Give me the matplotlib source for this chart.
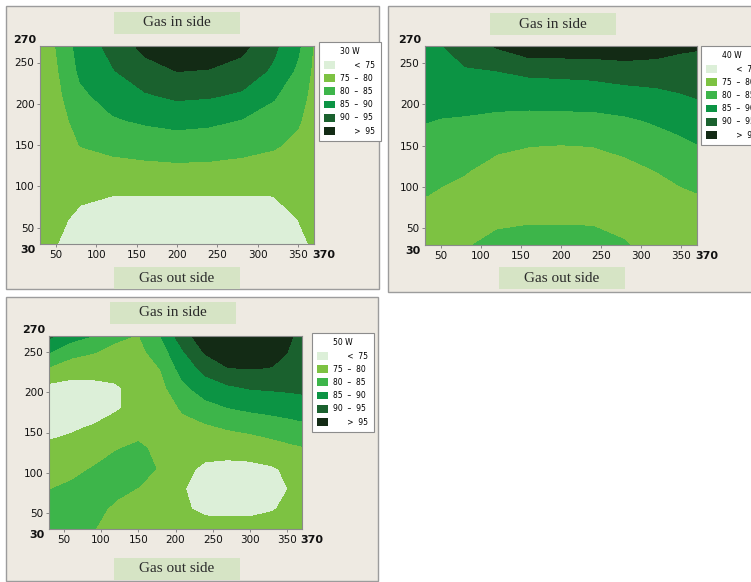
import matplotlib
matplotlib.use("Agg")
import matplotlib.pyplot as plt
from matplotlib.patches import Patch, Rectangle

W, H = 751, 582

# contour classes (efficiency bands) and their colours
levels = [60, 75, 80, 85, 90, 95, 105]
level_colors = ["#dcefd8", "#7dc242", "#3db54a", "#0c9444", "#1a612e", "#132b15"]
level_labels = ["      <  75", "75  –  80", "80  –  85", "85  –  90", "90  –  95", "      >  95"]

# grid for the 30 W and 40 W maps (x = gas out side, y = gas in side)
x_a = [30, 50, 80, 120, 160, 200, 240, 280, 320, 350, 370]
y_a = [270, 240, 210, 180, 150, 120, 90, 60, 30]

eff_30w = [
    [79.0, 80.1, 87.0, 91.5, 96.5, 98.0, 97.5, 96.5, 91.0, 86.0, 79.5],
    [78.5, 79.3, 85.9, 89.7, 93.0, 95.1, 94.8, 93.0, 89.2, 84.0, 79.0],
    [78.5, 78.5, 84.0, 87.0, 89.5, 90.9, 90.5, 89.3, 85.5, 82.0, 78.5],
    [78.0, 78.0, 81.7, 84.5, 85.7, 86.5, 86.0, 84.8, 83.0, 80.5, 78.0],
    [78.0, 77.5, 80.1, 81.2, 82.0, 82.6, 82.3, 81.5, 80.5, 79.0, 77.5],
    [77.5, 77.0, 78.4, 78.5, 78.7, 78.9, 78.8, 78.5, 78.0, 77.5, 77.0],
    [77.0, 76.5, 75.6, 75.1, 75.1, 75.1, 75.1, 75.1, 75.1, 76.0, 76.5],
    [76.5, 75.8, 74.2, 73.0, 72.5, 72.5, 72.5, 72.5, 73.5, 75.0, 76.0],
    [76.0, 75.1, 73.0, 71.5, 70.5, 70.0, 70.0, 70.5, 72.0, 74.0, 75.5],
]

eff_40w = [
    [88.5, 89.7, 92.5, 95.5, 98.5, 98.5, 98.5, 98.5, 97.5, 96.0, 95.5],
    [87.5, 88.0, 89.5, 90.0, 91.0, 91.2, 91.5, 92.5, 92.5, 92.5, 92.8],
    [86.5, 86.7, 87.0, 87.0, 87.0, 87.3, 87.5, 88.0, 88.8, 89.7, 90.3],
    [85.2, 84.8, 84.5, 83.8, 83.5, 83.5, 83.5, 84.3, 85.5, 86.5, 87.5],
    [83.0, 82.8, 82.3, 80.8, 80.1, 79.9, 80.1, 81.0, 83.0, 84.0, 84.8],
    [81.5, 81.0, 80.3, 78.5, 78.0, 77.8, 78.0, 78.8, 80.1, 81.3, 82.0],
    [80.1, 79.5, 78.5, 77.5, 77.5, 77.3, 77.5, 77.5, 78.3, 79.3, 79.8],
    [78.0, 77.8, 78.3, 79.0, 79.5, 79.5, 79.5, 78.8, 78.0, 78.3, 78.5],
    [77.0, 77.0, 79.5, 81.5, 82.0, 82.0, 81.5, 80.3, 78.0, 78.0, 78.0],
]

# finer grid for the 50 W map
x_b = [30, 60, 90, 120, 150, 180, 210, 240, 270, 300, 330, 355, 370]
y_b = [270, 250, 230, 205, 180, 155, 130, 105, 80, 55, 30]

eff_50w = [
    [91.0, 87.0, 84.8, 81.0, 79.7, 85.0, 93.0, 98.0, 99.5, 100.0, 98.0, 95.3, 93.5],
    [85.3, 81.5, 80.2, 78.5, 78.5, 82.5, 89.5, 95.5, 98.0, 98.5, 97.0, 94.5, 93.0],
    [79.5, 77.5, 77.0, 76.5, 77.5, 80.1, 87.2, 91.5, 94.8, 95.2, 94.8, 93.2, 92.5],
    [73.5, 73.0, 73.5, 74.5, 76.5, 78.5, 83.7, 87.5, 89.0, 90.2, 90.5, 90.8, 91.0],
    [72.5, 72.5, 73.0, 74.5, 76.5, 77.5, 80.5, 83.0, 84.8, 85.8, 86.5, 87.0, 87.5],
    [73.5, 74.5, 75.5, 77.0, 78.0, 77.5, 78.5, 79.0, 80.2, 81.0, 82.0, 83.0, 83.5],
    [76.0, 76.5, 77.5, 79.7, 81.0, 78.5, 77.5, 76.5, 76.5, 77.0, 78.0, 79.0, 79.5],
    [78.5, 78.5, 80.3, 82.0, 82.5, 79.3, 76.0, 74.2, 73.8, 73.8, 74.5, 76.0, 77.3],
    [79.8, 81.0, 82.0, 81.3, 79.8, 77.5, 75.2, 73.5, 73.0, 73.0, 73.8, 75.2, 76.5],
    [82.0, 82.5, 81.5, 79.0, 77.5, 76.5, 75.5, 74.2, 74.0, 74.0, 74.7, 76.0, 77.0],
    [84.5, 83.5, 80.2, 77.0, 76.5, 76.5, 76.5, 76.5, 76.5, 76.5, 77.0, 77.5, 78.0],
]

x_ticks = [50, 100, 150, 200, 250, 300, 350]
y_ticks = [50, 100, 150, 200, 250]

panel_bg = "#eeeae2"
box_green = "#d6e4c5"

fig = plt.figure(figsize=(W / 100, H / 100), dpi=100)
fig.patch.set_facecolor("white")


def frac(l, t, r, b):
    # pixel box (left, top, right, bottom) -> figure fraction rect
    return (l / W, 1 - b / H, (r - l) / W, (b - t) / H)


def px_rect(l, t, r, b, **kw):
    x0, y0, w, h = frac(l, t, r, b)
    fig.add_artist(Rectangle((x0, y0), w, h, transform=fig.transFigure, **kw))


def label_box(cx, cy, text):
    px_rect(cx - 63, cy - 11, cx + 63, cy + 11, facecolor=box_green, edgecolor="none", zorder=-4)
    fig.text(cx / W, 1 - cy / H, text, ha="center", va="center",
             family="Liberation Serif", fontsize=11, color="#2a2a2a")


def panel(frame, ax_box, leg_xy, top_c, bot_c, x, y, z, power):
    px_rect(*frame, facecolor=panel_bg, edgecolor="#9c9c9c", lw=1.0, zorder=-5)
    label_box(*top_c, "Gas in side")
    label_box(*bot_c, "Gas out side")

    ax = fig.add_axes(frac(*ax_box))
    ax.contourf(x, y, z, levels=levels, colors=level_colors)
    ax.set_xlim(30, 370)
    ax.set_ylim(30, 270)
    ax.set_xticks(x_ticks)
    ax.set_yticks(y_ticks)
    ax.tick_params(length=2, width=0.6, color="#777777", labelsize=7.5,
                   labelcolor="#111111", pad=2)
    for s in ax.spines.values():
        s.set_color("#8a8a8a")
        s.set_linewidth(0.8)

    # end values of both axes, bold as in the original
    ax.annotate("270", xy=(0, 1), xycoords="axes fraction", xytext=(-3, 4),
                textcoords="offset points", ha="right", va="center",
                fontsize=8, fontweight="bold", color="#111111")
    ax.annotate("30", xy=(0, 0), xycoords="axes fraction", xytext=(-3, -4),
                textcoords="offset points", ha="right", va="center",
                fontsize=8, fontweight="bold", color="#111111")
    ax.annotate("370", xy=(1, 0), xycoords="axes fraction", xytext=(-1, -4),
                textcoords="offset points", ha="left", va="top",
                fontsize=8, fontweight="bold", color="#111111")

    handles = [Patch(facecolor=c, edgecolor="none", label=l)
               for c, l in zip(level_colors, level_labels)]
    leg = ax.legend(handles=handles, title=f"{power} W", loc="upper left",
                    bbox_to_anchor=(leg_xy[0] / W, 1 - leg_xy[1] / H),
                    bbox_transform=fig.transFigure, fontsize=5.5,
                    title_fontsize=5.5, fancybox=False, framealpha=1,
                    edgecolor="#8c8c8c", borderpad=0.7, labelspacing=0.55,
                    handlelength=1.4, handleheight=1.2, handletextpad=0.7,
                    borderaxespad=0)
    leg.get_frame().set_linewidth(0.8)
    return ax


panel((6, 6, 379, 289), (40, 46, 314, 244), (319, 42), (177, 23), (177, 278),
      x_a, y_a, eff_30w, 30)
panel((388, 6, 770, 292), (425, 46, 697, 245), (701, 46), (553, 24), (562, 278),
      x_a, y_a, eff_40w, 40)
panel((6, 297, 378, 581), (49, 336, 302, 529), (312, 333), (173, 313), (177, 569),
      x_b, y_b, eff_50w, 50)

fig.savefig("out.png", dpi=100)
